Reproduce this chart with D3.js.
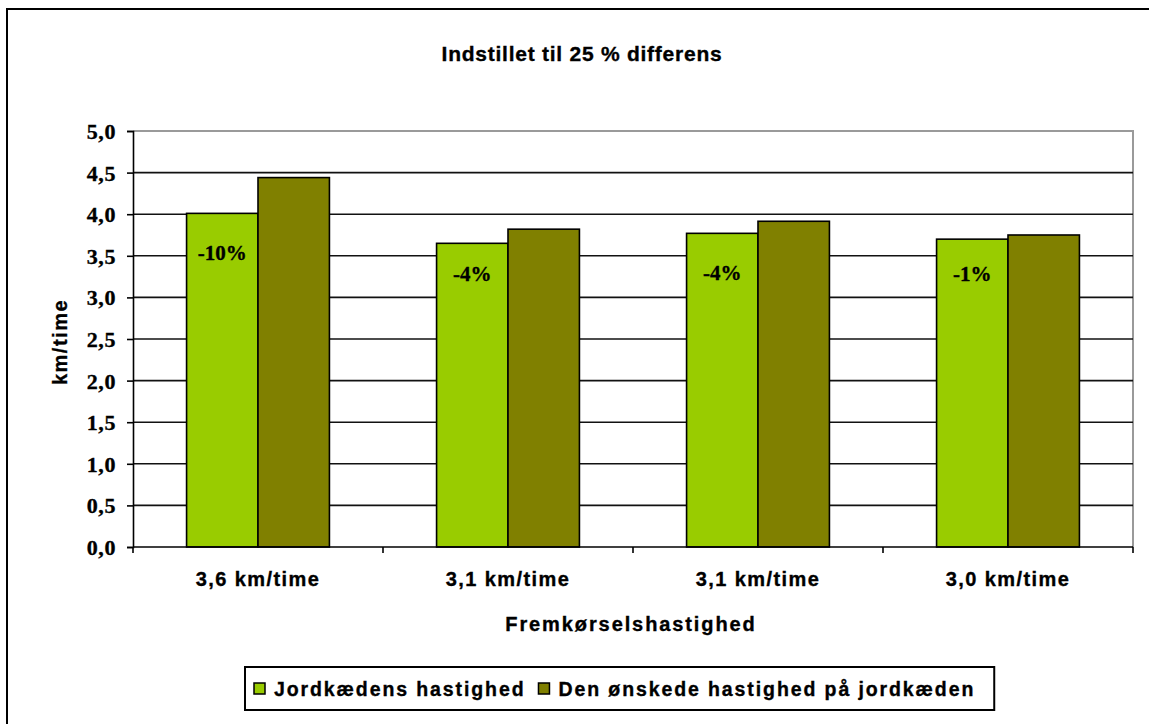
<!DOCTYPE html>
<html>
<head>
<meta charset="utf-8">
<script src="https://cdn.jsdelivr.net/npm/d3@7"></script>
<style>
  html, body { margin: 0; padding: 0; background: #fff; }
  svg { display: block; }
  .sans { font-family: "Liberation Sans", Arial, sans-serif; font-weight: bold; fill: #000; stroke: #000; stroke-width: 0.35px; }
  .serif { font-family: "Liberation Serif", "Times New Roman", serif; font-weight: bold; fill: #000; stroke: #000; stroke-width: 0.35px; }
</style>
</head>
<body>
<svg id="chart" width="1149" height="724"></svg>
<script>
// Chart data
const title = "Indstillet til 25 % differens";
const categories = ["3,6 km/time", "3,1 km/time", "3,1 km/time", "3,0 km/time"];
const seriesNames = ["Jordkædens hastighed", "Den ønskede hastighed på jordkæden"];
const jordkaedeSpeed = [4.01, 3.65, 3.77, 3.70];
const desiredSpeed = [4.44, 3.82, 3.915, 3.75];
const yTicks = [0, 0.5, 1, 1.5, 2, 2.5, 3, 3.5, 4, 4.5, 5];
const xTitle = "Fremkørselshastighed";
const yTitle = "km/time";

const colors = ["#99CC00", "#808000"];
const series = [jordkaedeSpeed, desiredSpeed];

const svg = d3.select("#chart");
const W = 1149, H = 724;
const plot = { left: 133, right: 1133, top: 131, bottom: 547 };

// Outer chart frame (runs past the right and bottom edges)
svg.append("rect")
  .attr("x", 7).attr("y", 9)
  .attr("width", W + 20).attr("height", H + 20)
  .attr("fill", "#fff").attr("stroke", "#000").attr("stroke-width", 2);

// Scales
const x = d3.scaleBand().domain(d3.range(categories.length))
  .range([plot.left, plot.right]).paddingInner(0).paddingOuter(0);
const groupWidth = x.bandwidth() / 3.5 * 2;
const xInner = d3.scaleBand().domain(d3.range(series.length)).range([0, groupWidth]);
const y = d3.scaleLinear().domain([0, 5]).range([plot.bottom, plot.top]);

const locale = d3.formatLocale({ decimal: ",", thousands: ".", grouping: [3], currency: ["", " kr"] });
const fmt = locale.format(".1f");

// Plot area border (top and right)
svg.append("path")
  .attr("d", `M${plot.left},${plot.top}H${plot.right}V${plot.bottom}`)
  .attr("fill", "none").attr("stroke", "#9a9a9a").attr("stroke-width", 2);

// Horizontal gridlines
svg.append("g").selectAll("line")
  .data(yTicks.filter(t => t > 0 && t < 5))
  .join("line")
  .attr("x1", plot.left).attr("x2", plot.right)
  .attr("y1", d => y(d)).attr("y2", d => y(d))
  .attr("stroke", "#111").attr("stroke-width", 1.6);

// Bars
const groups = svg.append("g").selectAll("g")
  .data(categories.map((c, i) => i))
  .join("g")
  .attr("transform", i => `translate(${x(i) + x.bandwidth() / 2 - groupWidth / 2},0)`);

groups.selectAll("rect")
  .data(i => series.map((s, k) => ({ k, v: s[i] })))
  .join("rect")
  .attr("x", d => xInner(d.k))
  .attr("width", xInner.bandwidth())
  .attr("y", d => y(d.v))
  .attr("height", d => y(0) - y(d.v))
  .attr("fill", d => colors[d.k])
  .attr("stroke", "#000").attr("stroke-width", 1.6);

// Difference labels inside the first bar of each group
groups.append("text")
  .attr("class", "serif")
  .attr("font-size", 21)
  .attr("text-anchor", "middle")
  .attr("x", xInner(0) + xInner.bandwidth() / 2)
  .attr("y", i => Math.min(y(jordkaedeSpeed[i]) + 47, y(3.2)))
  .text(i => Math.round((jordkaedeSpeed[i] / desiredSpeed[i] - 1) * 100) + "%");

// Y axis
const yAxis = svg.append("g")
  .attr("transform", `translate(${plot.left},0)`)
  .call(d3.axisLeft(y).tickValues(yTicks).tickFormat(fmt).tickSize(6).tickPadding(11));
yAxis.select(".domain").attr("stroke", "#000").attr("stroke-width", 1.6);
yAxis.selectAll(".tick line").attr("stroke", "#000").attr("stroke-width", 1.6);
yAxis.selectAll(".tick text")
  .attr("class", "serif")
  .attr("font-size", 22)
  .attr("letter-spacing", 0.6)
  .attr("dy", "0.34em");

// X axis: ticks at category boundaries, labels centred in each category
const boundaries = d3.range(categories.length + 1).map(i => plot.left + i * x.bandwidth());
const xAxis = svg.append("g");
xAxis.append("line")
  .attr("x1", plot.left).attr("x2", plot.right)
  .attr("y1", plot.bottom).attr("y2", plot.bottom)
  .attr("stroke", "#000").attr("stroke-width", 1.6);
xAxis.selectAll("line.tick")
  .data(boundaries)
  .join("line").attr("class", "tick")
  .attr("x1", d => d).attr("x2", d => d)
  .attr("y1", plot.bottom).attr("y2", plot.bottom + 6)
  .attr("stroke", "#000").attr("stroke-width", 1.6);
xAxis.selectAll("text")
  .data(categories)
  .join("text")
  .attr("class", "sans")
  .attr("font-size", 20)
  .attr("letter-spacing", 1.4)
  .attr("text-anchor", "middle")
  .attr("x", (d, i) => x(i) + x.bandwidth() / 2)
  .attr("y", plot.bottom + 39)
  .text(d => d);

// Title
svg.append("text")
  .attr("class", "sans")
  .attr("font-size", 21)
  .attr("letter-spacing", 0.75)
  .attr("text-anchor", "middle")
  .attr("x", 582).attr("y", 61)
  .text(title);

// Axis titles
svg.append("text")
  .attr("class", "sans")
  .attr("font-size", 20)
  .attr("letter-spacing", 1.9)
  .attr("text-anchor", "middle")
  .attr("x", 631).attr("y", 631)
  .text(xTitle);

svg.append("text")
  .attr("class", "sans")
  .attr("font-size", 20)
  .attr("letter-spacing", 1.5)
  .attr("text-anchor", "middle")
  .attr("transform", `translate(67,${(plot.top + plot.bottom) / 2 + 3}) rotate(-90)`)
  .text(yTitle);

// Legend
const legend = svg.append("g");
const legendBox = legend.append("rect")
  .attr("fill", "#fff").attr("stroke", "#000").attr("stroke-width", 2);
const lx0 = 245, ly0 = 667, lh = 43, sq = 11;
let cx = lx0 + 9;
seriesNames.forEach((name, k) => {
  legend.append("rect")
    .attr("x", cx).attr("y", ly0 + lh / 2 - sq / 2)
    .attr("width", sq).attr("height", sq)
    .attr("fill", colors[k]).attr("stroke", "#000").attr("stroke-width", 1.5);
  cx += sq + 9;
  const t = legend.append("text")
    .attr("class", "sans")
    .attr("font-size", 19.5)
    .attr("letter-spacing", 1.9)
    .attr("x", cx).attr("y", ly0 + lh / 2 + 7)
    .text(name);
  cx += t.node().getComputedTextLength() + 13;
});
legendBox.attr("x", lx0).attr("y", ly0).attr("width", cx - lx0 + 6).attr("height", lh);
</script>
</body>
</html>
